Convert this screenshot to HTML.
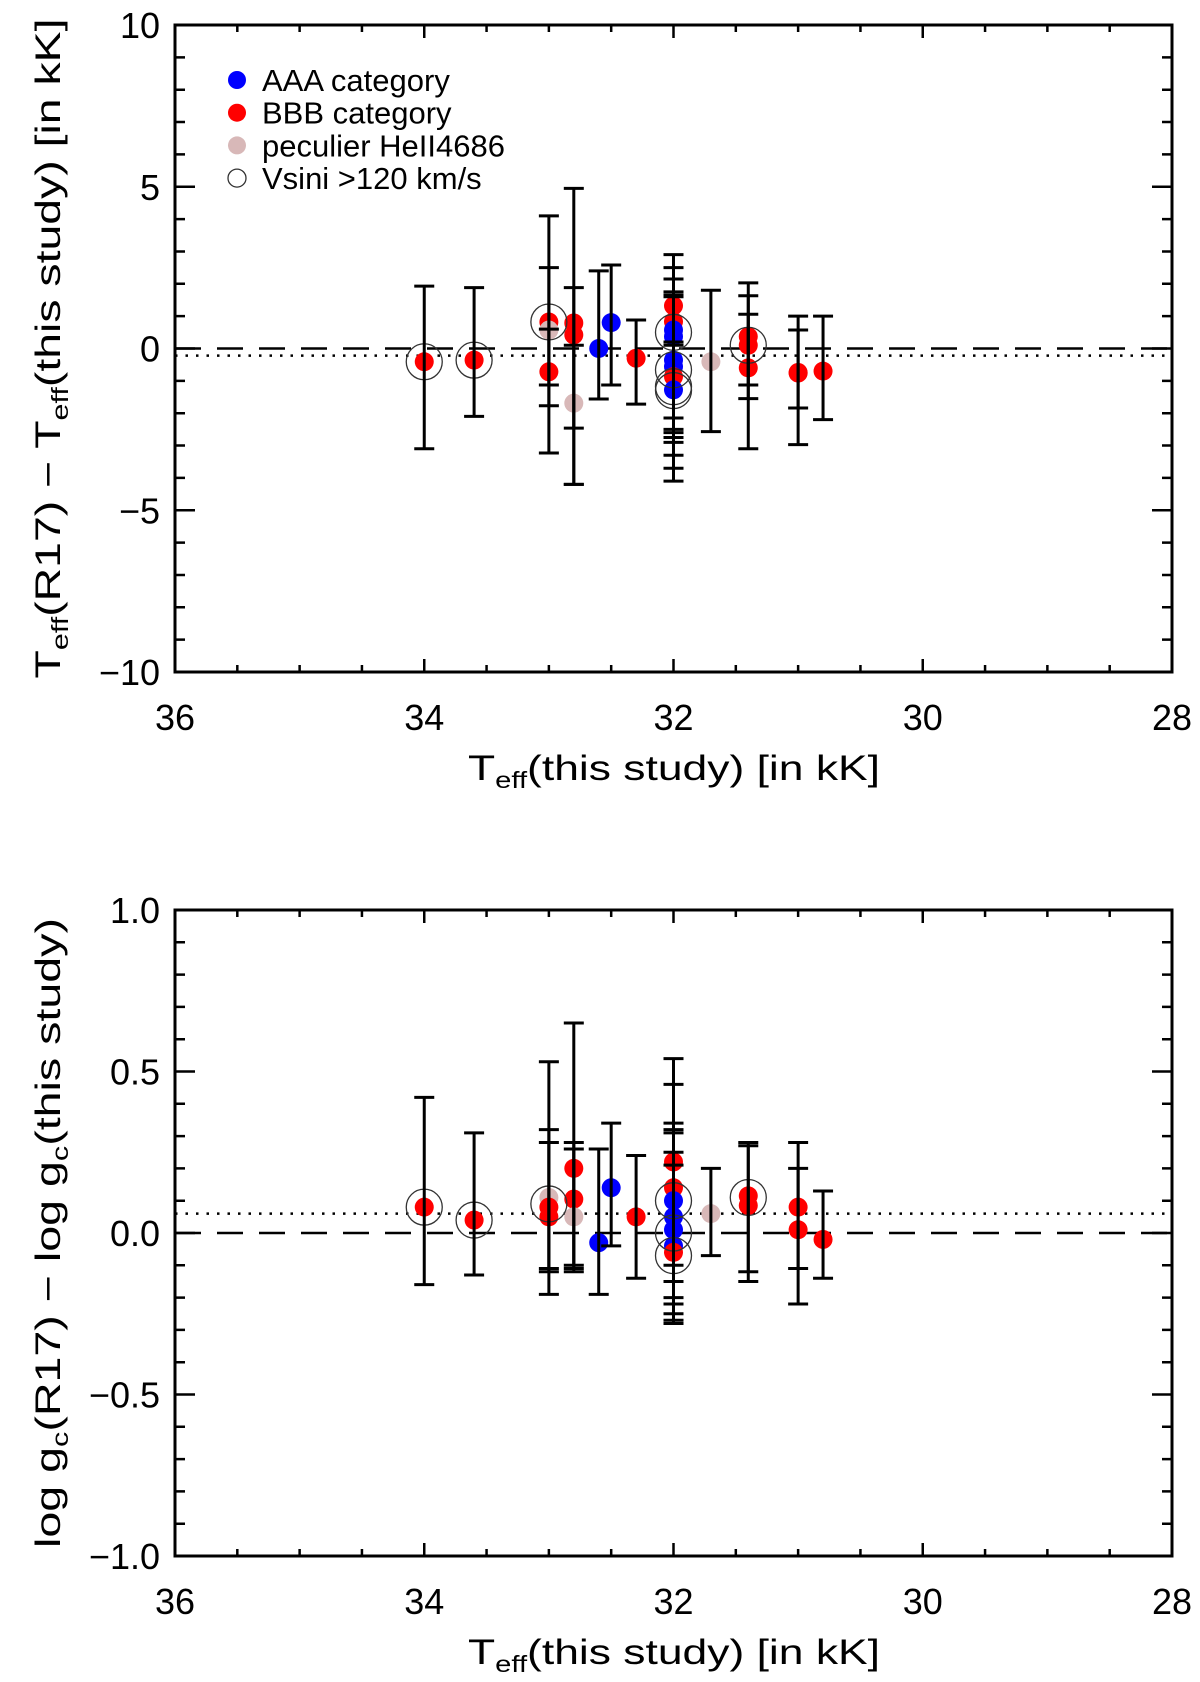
<!DOCTYPE html>
<html><head><meta charset="utf-8"><style>
html,body{margin:0;padding:0;background:#fff;}
svg{display:block;font-family:"Liberation Sans",sans-serif;}
</style></head><body>
<svg id="fig" width="1200" height="1682" viewBox="0 0 1200 1682" xmlns="http://www.w3.org/2000/svg"></svg>
<script>
// ---- shared x axis ----
const xTickVals = [36, 34, 32, 30, 28];
const xTickLabels = ["36", "34", "32", "30", "28"];
// ---- top panel data (Teff) ----
const topX   = [34.0, 33.6, 33.0, 33.0, 33.0, 32.8, 32.8, 32.8, 32.6, 32.5, 32.3, 32.0, 32.0, 32.0, 32.0, 32.0, 32.0, 32.0, 32.0, 31.7, 31.4, 31.4, 31.4, 31.0, 31.0, 30.8];
const topY   = [-0.41, -0.36, 0.82, 0.57, -0.72, 0.79, 0.42, -1.69, 0.0, 0.8, -0.3, 1.32, 0.83, 0.57, 0.37, -0.36, -0.56, -0.87, -1.28, -0.41, 0.37, 0.1, -0.6, -0.76, -0.74, -0.7];
const topLo  = [-3.1, -2.1, -1.13, -1.77, -3.23, -2.46, -4.2, -4.2, -1.56, -1.13, -1.72, -2.15, -2.5, -2.75, -2.9, -3.3, -3.7, -4.1, -2.6, -2.57, -1.13, -1.55, -3.1, -1.84, -2.97, -2.2];
const topHi  = [1.93, 1.88, 4.1, 2.5, 0.6, 1.88, 4.95, 0.1, 2.4, 2.58, 0.88, 2.9, 2.5, 2.15, 1.75, 1.65, 1.6, 0.1, 0.2, 1.8, 2.03, 1.63, 1.06, 1.0, 0.57, 1.0];
const topCat = ["B","B","B","P","B","B","B","P","A","A","B","B","B","A","A","A","A","B","A","P","B","B","B","B","B","B"];
const topRotX = [34.0, 33.6, 33.0, 32.0, 32.0, 32.0, 32.0, 31.4];
const topRotY = [-0.41, -0.36, 0.82, 0.5, -0.66, -1.18, -1.3, 0.1];
const topYTicks = [10, 5, 0, -5, -10];
const topYLabels = ["10", "5", "0", "\u22125", "\u221210"];
const topZero = 0, topMean = -0.22;
// ---- bottom panel data (log g) ----
const botX   = [34.0, 33.6, 33.0, 33.0, 33.0, 32.8, 32.8, 32.8, 32.6, 32.5, 32.3, 32.0, 32.0, 32.0, 32.0, 32.0, 32.0, 32.0, 31.7, 31.4, 31.4, 31.0, 31.0, 30.8];
const botY   = [0.08, 0.04, 0.11, 0.08, 0.05, 0.2, 0.105, 0.05, -0.03, 0.14, 0.05, 0.22, 0.14, 0.1, 0.05, 0.01, -0.04, -0.06, 0.06, 0.115, 0.085, 0.08, 0.01, -0.02];
const botLo  = [-0.16, -0.13, -0.19, -0.12, -0.11, -0.11, -0.12, -0.1, -0.19, -0.04, -0.14, -0.1, -0.15, -0.2, -0.25, -0.27, -0.28, -0.22, -0.07, -0.12, -0.15, -0.22, -0.11, -0.14];
const botHi  = [0.42, 0.31, 0.53, 0.32, 0.28, 0.65, 0.28, 0.26, 0.26, 0.34, 0.24, 0.54, 0.46, 0.34, 0.31, 0.25, 0.21, 0.32, 0.2, 0.28, 0.27, 0.28, 0.2, 0.13];
const botCat = ["B","B","P","B","B","B","B","P","A","A","B","B","B","A","A","A","A","B","P","B","B","B","B","B"];
const botRotX = [34.0, 33.6, 33.0, 32.0, 32.0, 32.0, 31.4];
const botRotY = [0.08, 0.04, 0.09, 0.1, 0.0, -0.07, 0.11];
const botYTicks = [1.0, 0.5, 0.0, -0.5, -1.0];
const botYLabels = ["1.0", "0.5", "0.0", "\u22120.5", "\u22121.0"];
const botZero = 0, botMean = 0.06;

const NS = "http://www.w3.org/2000/svg";
const svg = document.getElementById("fig");
const colors = {A:"#0000ff", B:"#ff0000", P:"#d8b8b8"};
function mk(tag, attrs, parent){
  const e = document.createElementNS(NS, tag);
  for (const k in attrs) e.setAttribute(k, attrs[k]);
  (parent||svg).appendChild(e); return e;
}
const L = 175, R = 1172;
function xs(v){ return L + (36 - v) / 8 * (R - L); }

function panel(name, T, B, ymax, ymin, yMinor, X, Y, Lo, Hi, Cat, RX, RY, yT, yL, zero, mean, title, titleLen, xTitleY){
  const g = mk("g", {});
  
  
  const ys = v => T + (ymax - v) / (ymax - ymin) * (B - T);
  const dl = mk("line", {x1:L, x2:R, y1:ys(zero), y2:ys(zero), stroke:"#000", "stroke-width":2.5, "stroke-dasharray":"26,16"}, g);
  
  
  const ml = mk("line", {x1:L, x2:R, y1:ys(mean), y2:ys(mean), stroke:"#000", "stroke-width":2.5, "stroke-dasharray":"2.5,8"}, g);
  
  
  for (let i = 0; i < X.length; i++){
    const c = mk("circle", {cx:xs(X[i]), cy:ys(Y[i]), r:9.5, fill:colors[Cat[i]]}, g);
    
    
  }
  for (let i = 0; i < RX.length; i++){
    const c = mk("circle", {cx:xs(RX[i]), cy:ys(RY[i]), r:18, fill:"none", stroke:"#333", "stroke-width":1.3}, g);
    
    
  }
  for (let i = 0; i < X.length; i++){
    const x = xs(X[i]), y1 = ys(Lo[i]), y2 = ys(Hi[i]);
    const eb = mk("path", {d:`M${x},${y1}V${y2}M${x-10},${y1}H${x+10}M${x-10},${y2}H${x+10}`, stroke:"#000", "stroke-width":3, fill:"none"}, g);
    
    
  }
  const fr = mk("rect", {x:L, y:T, width:R-L, height:B-T, fill:"none", stroke:"#000", "stroke-width":3}, g);
  
  
  let d = "";
  for (let v = 36; v >= 28 - 1e-9; v -= 0.5){
    const major = Math.abs(v - Math.round(v/2)*2) < 1e-6;
    const len = major ? 13 : 7, x = xs(v);
    d += `M${x},${B}V${B-len}M${x},${T}V${T+len}`;
  }
  for (let v = ymin; v <= ymax + 1e-9; v += yMinor){
    const major = yT.some(t => Math.abs(t - v) < 1e-6);
    const len = major ? 20 : 10, y = ys(v);
    d += `M${L},${y}H${L+len}M${R},${y}H${R-len}`;
  }
  const tk = mk("path", {d:d, stroke:"#000", "stroke-width":2.5, fill:"none"}, g);
  
  
  xTickVals.forEach((v, i) => {
    const t = mk("text", {x:xs(v), y:B+58, "font-size":36, "text-anchor":"middle"}, g);
    t.textContent = xTickLabels[i];
    
    
  });
  yT.forEach((v, i) => {
    const t = mk("text", {x:160, y:ys(v)+13, "font-size":36, "text-anchor":"end"}, g);
    t.textContent = yL[i];
    
    
  });
  const xt = mk("text", {x:468, y:xTitleY, "font-size":35, textLength:412, lengthAdjust:"spacingAndGlyphs"}, g);
  xt.innerHTML = 'T<tspan font-size="23" dy="8">eff</tspan><tspan dy="-8">(this study)  [in kK]</tspan>';
  
  
  const cy = (T + B) / 2;
  const yt = mk("text", {x:0, y:0, "font-size":35, "text-anchor":"middle", transform:`translate(60,${cy}) rotate(-90)`, textLength:titleLen, lengthAdjust:"spacingAndGlyphs"}, g);
  yt.innerHTML = title;
  
  
  return g;
}

panel("teff", 25, 672, 10, -10, 1, topX, topY, topLo, topHi, topCat, topRotX, topRotY, topYTicks, topYLabels, topZero, topMean,
  'T<tspan font-size="23" dy="8">eff</tspan><tspan dy="-8">(R17)  \u2212  T</tspan><tspan font-size="23" dy="8">eff</tspan><tspan dy="-8">(this study)  [in kK]</tspan>', 660, 780);
panel("logg", 910, 1556, 1.0, -1.0, 0.1, botX, botY, botLo, botHi, botCat, botRotX, botRotY, botYTicks, botYLabels, botZero, botMean,
  'log g<tspan font-size="23" dy="8">c</tspan><tspan dy="-8">(R17)  \u2212  log g</tspan><tspan font-size="23" dy="8">c</tspan><tspan dy="-8">(this study)</tspan>', 630, 1664);

const legend = mk("g", {});


const legItems = [["AAA category","A"],["BBB category","B"],["peculier HeII4686","P"],["Vsini >120 km/s","O"]];
legItems.forEach((it, i) => {
  const y = 80 + i * 32.7;
  const sym = it[1] === "O"
    ? mk("circle", {cx:237, cy:y, r:9, fill:"none", stroke:"#333", "stroke-width":1.3}, legend)
    : mk("circle", {cx:237, cy:y, r:9, fill:colors[it[1]]}, legend);
  
  
  const t = mk("text", {x:262, y:y+11, "font-size":31}, legend);
  t.textContent = it[0];
  
  
});
</script>
</body></html>
